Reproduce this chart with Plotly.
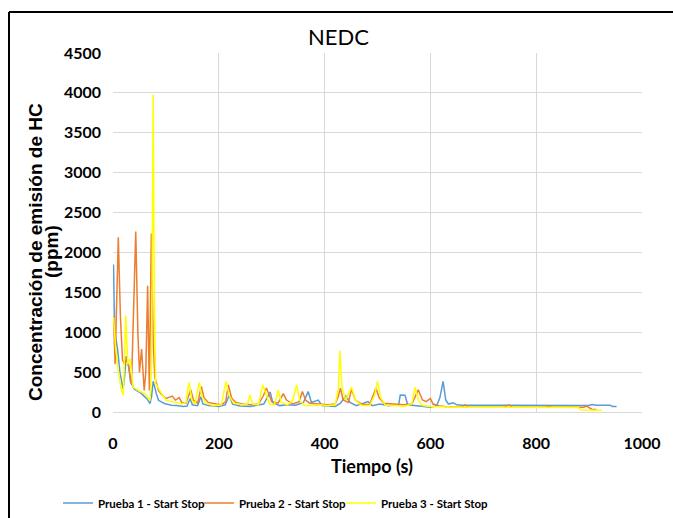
import plotly.graph_objects as go

# ---- data ----
t1 = [1, 3, 6, 9, 13, 19, 22, 25, 29, 33, 40, 48, 54, 60, 64, 70, 73, 76, 79, 82, 86, 92, 98, 105, 111, 120, 133, 140, 146, 150, 160, 166, 170, 180, 200, 212, 220, 226, 240, 260, 270, 285, 297, 302, 315, 330, 345, 360, 369, 375, 388, 395, 420, 430, 440, 448, 460, 482, 490, 505, 520, 540, 543, 552, 557, 575, 585, 600, 612, 618, 624, 629, 634, 643, 650, 660, 700, 800, 880, 900, 906, 912, 940, 944, 952]
v1 = [1850, 1020, 900, 770, 500, 290, 450, 700, 620, 380, 290, 260, 230, 190, 167, 104, 200, 385, 300, 230, 146, 120, 104, 95, 83, 80, 70, 75, 170, 90, 80, 190, 100, 80, 70, 90, 210, 100, 75, 70, 80, 100, 250, 120, 80, 90, 85, 120, 256, 120, 150, 80, 70, 110, 200, 120, 80, 130, 80, 100, 80, 90, 213, 210, 90, 80, 70, 60, 80, 180, 384, 150, 100, 115, 90, 85, 85, 80, 80, 85, 95, 85, 85, 70, 70]

t2 = [1, 4, 10, 14, 18, 22, 26, 30, 35, 43, 47, 50, 54, 59, 62, 65.5, 68.7, 72.5, 76, 79, 86, 92, 100, 106, 112, 118, 125, 130, 138, 147, 152, 160, 167, 172, 180, 195, 205, 213, 218, 224, 232, 245, 260, 275, 284, 290, 295, 300, 312, 322, 328, 340, 352, 358, 364, 372, 390, 405, 420, 426, 430, 435, 445, 451, 458, 470, 485, 497, 503, 512, 530, 550, 565, 577, 585, 592, 600, 605, 615, 630, 660, 665, 670, 740, 748, 754, 820, 822, 828, 890, 895, 900, 905, 914]
v2 = [1200, 600, 2190, 1200, 650, 600, 667, 550, 350, 2262, 1000, 500, 790, 270, 500, 1583, 270, 2237, 900, 437, 270, 220, 170, 190, 200, 150, 180, 120, 110, 280, 150, 110, 320, 180, 120, 100, 90, 130, 340, 180, 120, 100, 90, 100, 200, 300, 200, 130, 110, 230, 150, 100, 130, 256, 150, 110, 100, 90, 100, 200, 300, 150, 120, 286, 150, 100, 90, 300, 180, 110, 100, 90, 100, 278, 150, 130, 170, 100, 80, 65, 60, 90, 60, 60, 90, 60, 60, 80, 60, 60, 75, 55, 35, 30]

t3 = [1, 5, 10, 15, 19.5, 24, 28, 32, 38, 50, 60, 70, 73, 76, 78, 80.6, 92, 100, 110, 120, 130, 138, 143.6, 149, 155, 163, 168, 175, 190, 205, 213.5, 220, 228, 245, 254, 259, 264, 275, 283, 290, 296, 305, 312.5, 318, 330, 340, 347, 353, 362, 380, 395, 405, 420, 426, 429, 433, 440, 451, 458, 470, 485, 494, 500, 506, 515, 535, 550, 565, 571, 577, 585, 600, 650, 700, 800, 880, 885, 924]
v3 = [1190, 800, 520, 300, 208, 1208, 600, 667, 312, 260, 230, 145, 600, 3980, 1500, 354, 230, 150, 130, 120, 100, 120, 371, 150, 100, 371, 200, 110, 80, 90, 384, 200, 110, 90, 100, 213, 100, 90, 341, 200, 100, 90, 278, 120, 90, 150, 341, 150, 80, 80, 90, 80, 90, 300, 769, 300, 150, 312, 150, 80, 80, 200, 384, 180, 80, 80, 70, 100, 312, 150, 80, 70, 60, 60, 55, 55, 25, 21]

names = ["Prueba 1 - Start Stop", "Prueba 2 - Start Stop", "Prueba 3 - Start Stop"]
colors = ["#5B9BD5", "#ED7D31", "#FFFF00"]

x_ticks = [0, 200, 400, 600, 800, 1000]
y_ticks = [0, 500, 1000, 1500, 2000, 2500, 3000, 3500, 4000, 4500]

FONT = "Lato"

# pixel -> paper helpers (plot area: x 113..642, y 53..412)
L, R, T, B = 113, 642, 53, 412
def px(x):
    return (x - L) / (R - L)
def py(y):
    return (B - y) / (B - T)

legend_ids = ["legend", "legend2", "legend3"]
legend_px = [58, 199, 341]

fig = go.Figure()
for t, v, n, c, lg in zip([t1, t2, t3], [v1, v2, v3], names, colors, legend_ids):
    fig.add_trace(go.Scatter(x=t, y=v, mode="lines", name=n, legend=lg,
                             line=dict(color=c, width=1.5)))

legend_style = {}
for lg, lx in zip(legend_ids, legend_px):
    legend_style[lg] = dict(orientation="h", x=px(lx), xanchor="left", y=py(503),
                            yanchor="middle",
                            font=dict(family=FONT, size=11.5, color="black", weight="bold"),
                            itemwidth=30, bgcolor="rgba(0,0,0,0)")

fig.update_layout(
    width=673, height=518,
    margin=dict(l=L, r=673 - R, t=T, b=518 - B, autoexpand=False),
    paper_bgcolor="white", plot_bgcolor="white",
    showlegend=True,
    **legend_style,
    xaxis=dict(range=[0, 1000], tickvals=x_ticks, showgrid=True, gridcolor="#D9D9D9",
               gridwidth=1, zeroline=False, showline=True, linecolor="#D9D9D9",
               ticks="", tickfont=dict(family=FONT, size=16, color="black", weight="bold"),
               ticklabelstandoff=17),
    yaxis=dict(range=[0, 4500], tickvals=y_ticks, showgrid=True, gridcolor="#D9D9D9",
               gridwidth=1, zeroline=False, showline=False,
               ticks="", tickfont=dict(family=FONT, size=16, color="black", weight="bold"),
               ticklabelstandoff=11),
    annotations=[
        dict(text="NEDC", x=px(338), y=py(36), xref="paper", yref="paper",
             xanchor="center", yanchor="middle",
             showarrow=False, font=dict(family=FONT, size=22, color="black")),
        dict(text="Concentración de emisión de HC", x=px(35), y=py(252),
             xref="paper", yref="paper", xanchor="center", yanchor="middle",
             showarrow=False, textangle=-90,
             font=dict(family="Liberation Sans", size=19, color="black", weight="bold")),
        dict(text="(ppm)", x=px(51), y=py(252),
             xref="paper", yref="paper", xanchor="center", yanchor="middle",
             showarrow=False, textangle=-90,
             font=dict(family="Liberation Sans", size=19, color="black", weight="bold")),
        dict(text="Tiempo (s)", x=px(372), y=py(466), xref="paper", yref="paper",
             xanchor="center", yanchor="middle", showarrow=False,
             font=dict(family=FONT, size=18, color="black", weight="bold")),
    ],
    shapes=[
        dict(type="line", xref="paper", yref="paper", x0=px(9), x1=px(9), y0=py(530), y1=py(12),
             line=dict(color="black", width=2)),
        dict(type="line", xref="paper", yref="paper", x0=px(9), x1=px(680), y0=py(12), y1=py(12),
             line=dict(color="black", width=2)),
    ],
)

fig.write_html("out.html")
